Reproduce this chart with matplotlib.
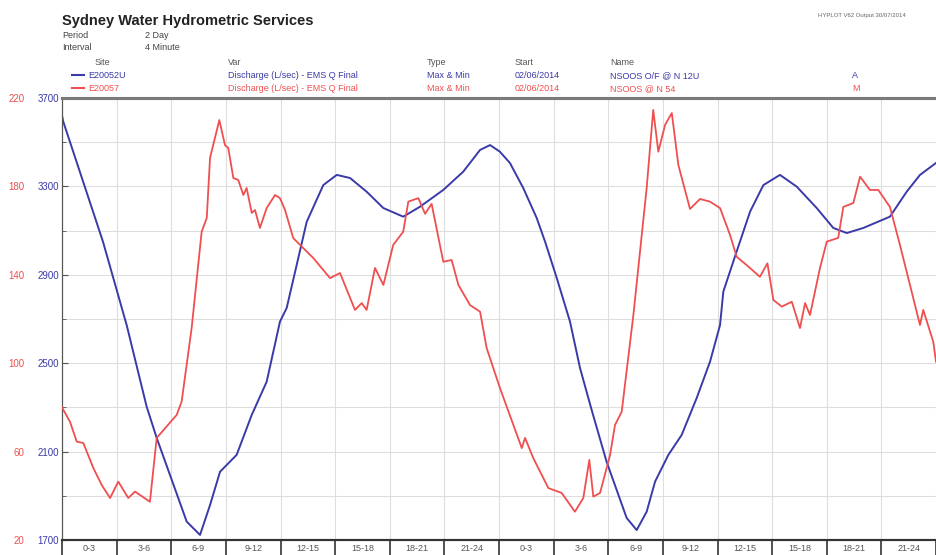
import numpy as np
from matplotlib import pyplot as plt
from matplotlib.ticker import FixedLocator, MultipleLocator

plt.rcParams['font.family'] = ['Liberation Sans', 'DejaVu Sans']

# Site E20052U (blue, left scale 1700-3700 L/sec)
hours_blue = [0.0, 0.07, 2.25, 3.55, 4.65, 5.20, 6.85, 7.58, 8.13, 8.68, 9.59, 10.42, 11.24,
              11.97, 12.34, 13.44, 14.35, 15.09, 15.82, 16.73, 17.65, 18.74, 19.66, 20.94,
              22.04, 22.96, 23.51, 24.05, 24.60, 25.33, 26.07, 26.53, 27.17, 27.90, 28.45,
              29.09, 29.91, 31.01, 31.56, 32.11, 32.57, 33.30, 34.03, 34.86, 35.59, 36.14,
              36.32, 37.05, 37.79, 38.52, 39.43, 40.35, 41.45, 42.36, 43.10, 44.01, 45.47,
              46.39, 47.12, 48.0]
flow_blue = [3620, 3593, 3050, 2673, 2303, 2162, 1783, 1723, 1858, 2009, 2085, 2266, 2416,
             2688, 2750, 3140, 3306, 3352, 3338, 3276, 3202, 3163, 3208, 3284,
             3367, 3465, 3487, 3457, 3406, 3293, 3157, 3050, 2886, 2688, 2478,
             2288, 2054, 1800, 1745, 1828, 1964, 2085, 2175, 2343, 2507, 2673,
             2824, 3005, 3186, 3306, 3352, 3299, 3202, 3112, 3089, 3112, 3163,
             3276, 3352, 3406]

# Site E20057 (red, left scale 20-220 L/sec)
hours_red = [0.0, 0.44, 0.81, 1.17, 1.72, 2.18, 2.64, 3.09, 3.64, 4.01, 4.83, 5.20, 6.30,
             6.57, 7.12, 7.67, 7.95, 8.13, 8.64, 8.95, 9.13, 9.41, 9.68, 9.96, 10.14, 10.42,
             10.60, 10.87, 11.24, 11.70, 11.97, 12.25, 12.70, 13.25, 13.80, 14.72, 15.27,
             16.09, 16.46, 16.73, 17.19, 17.65, 18.19, 18.74, 19.02, 19.57, 19.94, 20.30,
             20.94, 21.40, 21.77, 22.41, 22.96, 23.32, 24.05, 25.25, 25.43, 25.88, 26.71,
             27.44, 28.17, 28.63, 28.96, 29.18, 29.55, 30.10, 30.37, 30.74, 31.38, 32.11,
             32.47, 32.75, 33.12, 33.49, 33.85, 34.49, 35.04, 35.59, 36.14, 36.69, 37.05,
             37.60, 38.33, 38.74, 39.07, 39.53, 40.08, 40.53, 40.81, 41.08, 41.63, 42.00,
             42.63, 42.91, 43.46, 43.83, 44.37, 44.83, 45.47, 46.02, 46.57, 47.12, 47.30,
             47.85, 48.0]
flow_red = [80, 73.5, 64.5, 63.9, 52.6, 44.9, 39.0, 46.4, 39.0, 41.9, 37.3, 66.2, 76.6,
            82.6, 115.9, 159.5, 165.7, 192.9, 210.0, 198.7, 197.4, 183.8, 182.9, 176.1, 179.3, 168.0,
            169.3, 161.2, 170.2, 176.1, 174.7, 169.3, 156.6, 152.1, 147.6, 138.5, 140.8,
            124.1, 127.2, 124.1, 143.1, 135.4, 153.5, 159.5, 173.1, 174.7, 167.6, 172.1,
            145.9, 146.7, 135.4, 126.3, 123.3, 106.9, 88.8, 61.6, 66.2, 57.1, 43.5,
            41.3, 32.8, 39.0, 56.2, 39.6, 41.3, 58.5, 72.0, 78.1, 121.8, 179.3,
            214.6, 195.7, 207.8, 213.2, 189.7, 169.8, 174.3, 173.1, 170.2, 158.0, 148.2,
            144.4, 139.1, 145.2, 128.6, 125.6, 127.8, 115.9, 127.2, 121.8, 143.1, 155.0,
            156.7, 170.7, 172.5, 184.4, 178.4, 178.4, 170.7, 153.5, 135.4, 117.3, 124.1,
            109.7, 100.7]

blue_ticks = [1700, 2100, 2500, 2900, 3300, 3700]
blue_minor = [1900, 2300, 2700, 3100, 3500]
red_ticks = [20, 60, 100, 140, 180, 220]
period_labels = ['0-3', '3-6', '6-9', '9-12', '12-15', '15-18', '18-21', '21-24'] * 2

blue = '#3a3aa8'
red = '#ef4f4f'

fig = plt.figure(figsize=(9.36, 5.55), dpi=100)
ax = fig.add_axes([62 / 936, 15 / 555, 1 - 62 / 936, 442 / 555])
ax2 = ax.twinx()

ax.plot(hours_blue, flow_blue, color=blue, lw=1.4, zorder=3)
ax2.plot(hours_red, flow_red, color=red, lw=1.3, zorder=3)

ax.set_xlim(0, 48)
ax.set_ylim(1700, 3700)
ax2.set_ylim(20, 220)

# y ticks: blue labels next to axis, red labels further left
ax.yaxis.set_major_locator(FixedLocator(blue_ticks))
ax.yaxis.set_minor_locator(FixedLocator(blue_minor))
ax.tick_params(axis='y', which='major', labelsize=7, labelcolor=blue, length=4,
               direction='in', color='#555555', pad=2)
ax.tick_params(axis='y', which='minor', length=3, direction='in', color='#555555')
ax2.yaxis.set_ticks_position('left')
ax2.yaxis.set_major_locator(FixedLocator(red_ticks))
ax2.tick_params(axis='y', labelsize=7, labelcolor=red, length=0, pad=27)

# x: boxes for each 3-hour period
ax.xaxis.set_major_locator(MultipleLocator(3))
ax.xaxis.set_minor_locator(FixedLocator(np.arange(1.5, 48, 3)))
ax.set_xticklabels([], minor=False)
ax.set_xticklabels(period_labels, minor=True)
ax.tick_params(axis='x', which='major', length=16, width=1.2, color='#333333', direction='out')
ax.tick_params(axis='x', which='minor', length=0, labelsize=6.5, labelcolor='#555555', pad=3)

ax.grid(True, which='both', axis='y', color='#dedede', lw=0.8)
ax.grid(True, which='major', axis='x', color='#dedede', lw=0.8)
ax.set_axisbelow(True)

for a in (ax, ax2):
    a.spines['right'].set_visible(False)
    a.spines['top'].set_color('#7a7a7a')
    a.spines['top'].set_linewidth(2.2)
    a.spines['left'].set_color('#555555')
    a.spines['bottom'].set_color('#333333')
    a.spines['bottom'].set_linewidth(1.5)

# header
def ftext(x, y, s, **kw):
    fig.text(x / 936, 1 - y / 555, s, va='baseline', **kw)

ftext(62, 25, 'Sydney Water Hydrometric Services', fontsize=10.5, fontweight='bold', color='#222222')
ftext(62, 38, 'Period', fontsize=6.5, color='#444444')
ftext(145, 38, '2 Day', fontsize=6.5, color='#444444')
ftext(62, 50, 'Interval', fontsize=6.5, color='#444444')
ftext(145, 50, '4 Minute', fontsize=6.5, color='#444444')
ftext(818, 17, 'HYPLOT V62 Output 30/07/2014', fontsize=4.3, color='#666666')

cols = [95, 228, 427, 515, 610]
for x, s in zip(cols, ['Site', 'Var', 'Type', 'Start', 'Name']):
    ftext(x, 65, s, fontsize=6.5, color='#555555')

rows = [(78, blue, ['E20052U', 'Discharge (L/sec) - EMS Q Final', 'Max & Min', '02/06/2014',
                    'NSOOS O/F @ N 12U'], 'A'),
        (91, red, ['E20057', 'Discharge (L/sec) - EMS Q Final', 'Max & Min', '02/06/2014',
                   'NSOOS @ N 54'], 'M')]
for y, c, vals, tag in rows:
    fig.add_artist(plt.Line2D([72 / 936, 84 / 936], [1 - (y - 3) / 555] * 2, color=c, lw=1.5))
    ftext(88, y, vals[0], fontsize=6.5, color=c)
    for x, s in zip(cols[1:], vals[1:]):
        ftext(x, y, s, fontsize=6.5, color=c)
    ftext(852, y, tag, fontsize=6.5, color=c)

plt.savefig('out.png', dpi=100)
